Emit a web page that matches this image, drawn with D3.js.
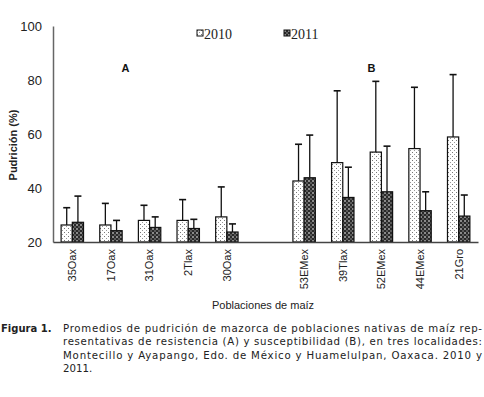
<!DOCTYPE html>
<html>
<head>
<meta charset="utf-8">
<script src="https://cdn.jsdelivr.net/npm/d3@7"></script>
<style>
  body { margin: 0; background: #fff; }
  svg { display: block; }
</style>
</head>
<body>
<div id="chart"></div>
<script>
// poblaciones (the empty one is the gap between groups A and B)
var categories = ["35Oax", "17Oax", "31Oax", "2Tlax", "30Oax", "", "53EMex", "39Tlax", "52EMex", "44EMex", "21Gro"];
var years = ["2010", "2011"];
var mean2010 = [26.3, 26.3, 28, 28, 29.3, null, 42.6, 49.4, 53.3, 54.6, 58.9];
var mean2011 = [27.3, 24.2, 25.4, 25, 23.7, null, 43.8, 36.5, 38.6, 31.6, 29.6];
var top2010 = [32.7, 34.3, 33.6, 35.7, 40.4, null, 56.2, 76, 79.5, 77.3, 82];
var top2011 = [37, 28, 29.3, 28.4, 26.7, null, 59.6, 47.7, 55.5, 38.6, 37.4];
var yTicks = [20, 40, 60, 80, 100];
var groupLabels = [{text: "A", cat: "31Oax", dx: -24}, {text: "B", cat: "52EMex", dx: -10}];
var captionLines = [
  "Promedios de pudrición de mazorca de poblaciones nativas de maíz rep-",
  "resentativas de resistencia (A) y susceptibilidad (B), en tres localidades:",
  "Montecillo y Ayapango, Edo. de México y Huamelulpan, Oaxaca. 2010 y",
  "2011."
];

var W = 484, H = 397;
var margin = {top: 26, left: 53, right: 6};
var svg = d3.select("#chart").append("svg").attr("width", W).attr("height", H);

var defs = svg.append("defs");
// dotted fill for 2010
var p1 = defs.append("pattern").attr("id", "dots").attr("patternUnits", "userSpaceOnUse")
  .attr("width", 4).attr("height", 4);
p1.append("rect").attr("width", 4).attr("height", 4).attr("fill", "#fff");
p1.append("rect").attr("x", 0).attr("y", 0).attr("width", 1).attr("height", 1).attr("fill", "#777");
p1.append("rect").attr("x", 2).attr("y", 2).attr("width", 1).attr("height", 1).attr("fill", "#999");
// dark checkered fill for 2011
var p2 = defs.append("pattern").attr("id", "checks").attr("patternUnits", "userSpaceOnUse")
  .attr("width", 4).attr("height", 4);
p2.append("rect").attr("width", 4).attr("height", 4).attr("fill", "#2a2a2a");
p2.append("rect").attr("x", 0).attr("y", 0).attr("width", 2).attr("height", 2).attr("fill", "#8a8a8a");
p2.append("rect").attr("x", 2).attr("y", 2).attr("width", 2).attr("height", 2).attr("fill", "#5a5a5a");
var fills = {"2010": "url(#dots)", "2011": "url(#checks)"};

var x = d3.scaleBand().domain(categories).range([margin.left, W - margin.right]).paddingInner(0.42).paddingOuter(0.21);
var xs = d3.scaleBand().domain(years).range([0, x.bandwidth()]);
var y = d3.scaleLinear().domain([20, 100]).range([242, margin.top]);

var rows = [];
categories.forEach(function (c, i) {
  if (c === "") return;
  rows.push({cat: c, year: "2010", v: mean2010[i], top: top2010[i]});
  rows.push({cat: c, year: "2011", v: mean2011[i], top: top2011[i]});
});

// error bars (upper only)
var eb = svg.append("g").attr("stroke", "#111").attr("stroke-width", 1.3);
rows.forEach(function (d) {
  var cx = x(d.cat) + xs(d.year) + xs.bandwidth() / 2;
  eb.append("line").attr("x1", cx).attr("x2", cx).attr("y1", y(d.v)).attr("y2", y(d.top));
  eb.append("line").attr("x1", cx - 3.5).attr("x2", cx + 3.5).attr("y1", y(d.top)).attr("y2", y(d.top)).attr("stroke-width", 1.6);
});

svg.append("g").selectAll("rect").data(rows).join("rect")
  .attr("x", function (d) { return x(d.cat) + xs(d.year); })
  .attr("y", function (d) { return y(d.v); })
  .attr("width", xs.bandwidth())
  .attr("height", function (d) { return y(20) - y(d.v); })
  .attr("fill", function (d) { return fills[d.year]; })
  .attr("stroke", "#111").attr("stroke-width", 1.2);

// axes
var yAxis = svg.append("g").attr("transform", "translate(" + margin.left + ",0)")
  .call(d3.axisLeft(y).tickValues(yTicks).tickSize(0).tickPadding(11));
yAxis.select(".domain").attr("stroke", "#666").attr("stroke-width", 1.5);
yAxis.selectAll("text").attr("font-family", "Liberation Sans, Arial, sans-serif").attr("font-size", 13).attr("fill", "#222");

var xAxis = svg.append("g").attr("transform", "translate(0," + y(20) + ")")
  .call(d3.axisBottom(x).tickSize(0).tickPadding(0));
xAxis.select(".domain").attr("stroke", "#444").attr("stroke-width", 1.5);
xAxis.selectAll("text")
  .attr("font-family", "Liberation Sans, Arial, sans-serif").attr("font-size", 11).attr("fill", "#222")
  .attr("transform", "rotate(-90)").attr("text-anchor", "end")
  .attr("x", -7).attr("y", 0).attr("dy", "0.35em");

// axis titles
svg.append("text").attr("transform", "translate(17,145) rotate(-90)")
  .attr("text-anchor", "middle").attr("font-family", "Liberation Sans, Arial, sans-serif")
  .attr("font-size", 11).attr("font-weight", "bold").attr("fill", "#222").text("Pudrición (%)");
svg.append("text").attr("x", 263).attr("y", 309).attr("text-anchor", "middle")
  .attr("font-family", "Liberation Sans, Arial, sans-serif").attr("font-size", 11).attr("fill", "#222")
  .text("Poblaciones de maíz");

// group labels
groupLabels.forEach(function (g) {
  svg.append("text").attr("x", x(g.cat) + x.bandwidth() / 2 + g.dx).attr("y", 72)
    .attr("text-anchor", "middle").attr("font-family", "Liberation Sans, Arial, sans-serif")
    .attr("font-size", 11).attr("font-weight", "bold").attr("fill", "#111").text(g.text);
});

// legend
var legX = [197, 284];
years.forEach(function (yr, i) {
  var g = svg.append("g").attr("transform", "translate(" + legX[i] + ",30)");
  g.append("rect").attr("width", 6).attr("height", 6).attr("fill", fills[yr]).attr("stroke", "#111").attr("stroke-width", 1);
  g.append("text").attr("x", 7).attr("y", 9).attr("font-family", "Liberation Serif, Times New Roman, serif")
    .attr("font-size", 14).attr("fill", "#222").text(yr);
});

// caption
svg.append("text").attr("x", 1).attr("y", 332).attr("font-family", "DejaVu Sans, Verdana, sans-serif")
  .attr("font-size", 10).attr("font-weight", "bold").attr("fill", "#222").text("Figura 1.");
captionLines.forEach(function (t, i) {
  var tx = svg.append("text").attr("x", 63).attr("y", 332 + i * 13.3)
    .attr("font-family", "DejaVu Sans, Verdana, sans-serif").attr("font-size", 10.2).attr("fill", "#222").text(t);
  if (i < captionLines.length - 1) tx.attr("textLength", 419).attr("lengthAdjust", "spacing");
});
</script>
</body>
</html>
